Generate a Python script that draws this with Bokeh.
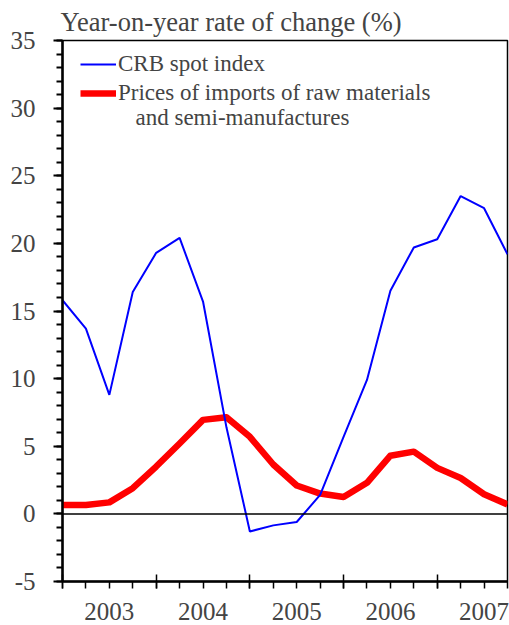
from bokeh.plotting import figure
from bokeh.models import LinearAxis, FixedTicker, Range1d, Span, Legend, LegendItem, Label, Title
from bokeh.embed import file_html
from bokeh.resources import INLINE

# Quarterly observations, 2003 Q1 .. 2007 Q4
periods = ["2003Q1", "2003Q2", "2003Q3", "2003Q4",
           "2004Q1", "2004Q2", "2004Q3", "2004Q4",
           "2005Q1", "2005Q2", "2005Q3", "2005Q4",
           "2006Q1", "2006Q2", "2006Q3", "2006Q4",
           "2007Q1", "2007Q2", "2007Q3", "2007Q4"]
crb_spot = [15.8, 13.7, 8.8, 16.4, 19.3, 20.4, 15.7, 6.4,
            -1.3, -0.85, -0.6, 1.4, 5.7, 9.9, 16.5, 19.7,
            20.3, 23.5, 22.6, 19.2]
import_prices = [0.65, 0.65, 0.85, 1.9, 3.5, 5.2, 6.95, 7.15,
                 5.7, 3.65, 2.1, 1.5, 1.25, 2.3, 4.3, 4.6,
                 3.4, 2.65, 1.45, 0.7]
years = ["2003", "2004", "2005", "2006", "2007"]
y_ticks = [-5, 0, 5, 10, 15, 20, 25, 30, 35]

FONT = "Liberation Serif"
x = list(range(len(periods)))

p = figure(width=509, height=625,
           x_range=Range1d(0, len(periods) - 1), y_range=Range1d(-5, 35),
           output_backend="svg", toolbar_location=None,
           x_axis_location=None, y_axis_location=None,
           min_border_left=62, min_border_right=2, min_border_top=38, min_border_bottom=44)
p.xgrid.visible = False
p.ygrid.visible = False
p.outline_line_color = "black"
p.outline_line_width = 1.5

p.add_layout(Title(text="Year-on-year rate of change (%)", align="left", offset=-2,
                   text_font=FONT, text_font_size="26.5px", text_font_style="normal",
                   standoff=8), "above")

yaxis = LinearAxis(ticker=FixedTicker(ticks=y_ticks, minor_ticks=list(range(-5, 36))),
                   major_tick_out=9, major_tick_in=0, minor_tick_out=6, minor_tick_in=0,
                   axis_line_width=2.5, major_tick_line_width=2, minor_tick_line_width=2,
                   major_label_text_font=FONT, major_label_text_font_size="25px",
                   major_label_standoff=18, major_label_overrides={-5: "-5"})
p.add_layout(yaxis, "left")

year_starts = [4 * i for i in range(len(years))]
xaxis = LinearAxis(ticker=FixedTicker(ticks=year_starts, minor_ticks=x),
                   major_tick_in=7, major_tick_out=7, minor_tick_in=0, minor_tick_out=7,
                   axis_line_width=2.5, major_tick_line_width=1.5, minor_tick_line_width=1.5,
                   major_label_text_font_size="0px", major_label_standoff=0,
                   major_label_overrides={t: "" for t in year_starts})
p.add_layout(xaxis, "below")

year_mids = [4 * i + 2 for i in range(len(years))]
xaxis2 = LinearAxis(ticker=FixedTicker(ticks=year_mids, minor_ticks=[]),
                    major_tick_in=0, major_tick_out=0, minor_tick_in=0, minor_tick_out=0,
                    axis_line_color=None,
                    major_label_text_font=FONT, major_label_text_font_size="25px",
                    major_label_standoff=14,
                    major_label_overrides={t: y for t, y in zip(year_mids, years)})
p.add_layout(xaxis2, "below")

p.add_layout(Span(location=0, dimension="width", line_color="black", line_width=1.5))

r_imp = p.line(x, import_prices, line_color="#ff0000", line_width=6.5, line_join="round")
r_crb = p.line(x, crb_spot, line_color="#0000ff", line_width=2)

legend = Legend(items=[LegendItem(label="CRB spot index", renderers=[r_crb]),
                       LegendItem(label="Prices of imports of raw materials", renderers=[r_imp])],
                location=(18, 475), border_line_color=None, background_fill_alpha=0,
                label_text_font=FONT, label_text_font_size="23px",
                glyph_width=36, label_standoff=2, spacing=3, margin=0, padding=0)
p.add_layout(legend)

p.add_layout(Label(x=0, y=35, x_offset=73, y_offset=-77, text="and semi-manufactures",
                   text_font=FONT, text_font_size="23px", text_baseline="alphabetic"))

open("out.html", "w").write(file_html(p, INLINE))
